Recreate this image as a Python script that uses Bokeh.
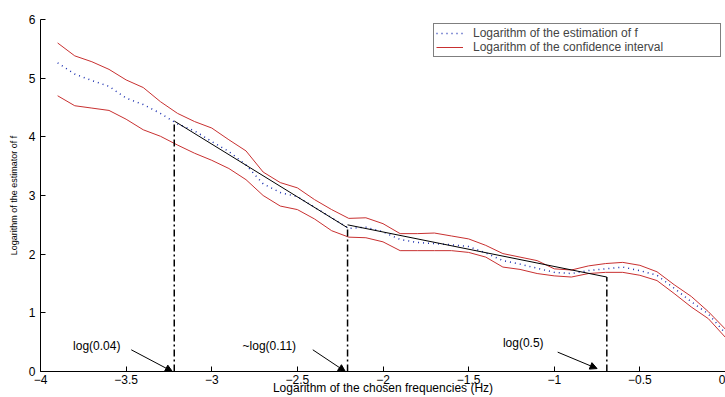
from bokeh.plotting import figure
from bokeh.models import Range1d, Legend, LegendItem, Arrow, NormalHead, FixedTicker
from bokeh.embed import file_html
from bokeh.resources import INLINE
from bokeh.core.properties import value

# ---- data ----
freq = [-3.9, -3.8, -3.7, -3.6, -3.5, -3.4, -3.3, -3.2, -3.1, -3.0,
        -2.9, -2.8, -2.7, -2.6, -2.5, -2.4, -2.3, -2.2, -2.1, -2.0,
        -1.9, -1.8, -1.7, -1.6, -1.5, -1.4, -1.3, -1.2, -1.1, -1.0,
        -0.9, -0.8, -0.7, -0.6, -0.5, -0.4, -0.3, -0.2, -0.1, 0.0]
estimate = [5.26, 5.07, 4.96, 4.86, 4.66, 4.55, 4.40, 4.22, 4.10, 3.92,
            3.75, 3.52, 3.20, 3.05, 2.98, 2.80, 2.62, 2.44, 2.46, 2.38,
            2.25, 2.20, 2.18, 2.16, 2.13, 2.02, 1.89, 1.83, 1.76, 1.69,
            1.67, 1.72, 1.75, 1.78, 1.72, 1.64, 1.42, 1.19, 0.98, 0.65]
ci_upper = [5.60, 5.38, 5.28, 5.15, 4.97, 4.84, 4.60, 4.40, 4.26, 4.15,
            3.95, 3.76, 3.40, 3.22, 3.13, 2.93, 2.76, 2.61, 2.62, 2.52,
            2.35, 2.35, 2.36, 2.31, 2.26, 2.15, 2.01, 1.95, 1.89, 1.75,
            1.73, 1.80, 1.84, 1.86, 1.81, 1.70, 1.48, 1.28, 1.02, 0.72]
ci_lower = [4.70, 4.53, 4.49, 4.45, 4.30, 4.12, 4.01, 3.86, 3.72, 3.60,
            3.46, 3.27, 3.00, 2.82, 2.76, 2.60, 2.40, 2.29, 2.28, 2.21,
            2.06, 2.06, 2.06, 2.06, 2.03, 1.95, 1.78, 1.74, 1.67, 1.63,
            1.61, 1.67, 1.69, 1.69, 1.64, 1.55, 1.33, 1.10, 0.90, 0.58]

# piecewise linear fit
fit1_x = [-3.219, -2.207]
fit1_y = [4.27, 2.45]
fit2_x = [-2.207, -0.693]
fit2_y = [2.50, 1.61]

# break points (vertical dash-dot lines)
break_x = [-3.219, -2.207, -0.693]
break_y = [4.25, 2.45, 1.61]

# annotations
ann_text = ["log(0.04)", "~log(0.11)", "log(0.5)"]
ann_x = [-3.81, -2.82, -1.30]
ann_y = [0.44, 0.44, 0.49]
arrow_x0 = [-3.47, -2.41, -0.98]
arrow_y0 = [0.37, 0.37, 0.33]
arrow_x1 = [-3.23, -2.22, -0.75]
arrow_y1 = [0.0, 0.0, 0.05]

x_ticks = [-4, -3.5, -3, -2.5, -2, -1.5, -1, -0.5, 0]
x_tick_labels = ["\u22124", "\u22123.5", "\u22123", "\u22122.5", "\u22122",
                 "\u22121.5", "\u22121", "\u22120.5", "0"]
y_ticks = [0, 1, 2, 3, 4, 5, 6]

FONT = "Liberation Sans"

p = figure(width=725, height=397, output_backend="svg", toolbar_location=None,
           x_range=Range1d(-4, 0), y_range=Range1d(0, 6),
           min_border_left=40, min_border_right=0, min_border_top=19,
           min_border_bottom=26)
p.grid.visible = False
p.outline_line_color = None
p.background_fill_color = "white"
p.border_fill_color = "white"

for ax in (p.xaxis[0], p.yaxis[0]):
    ax.major_tick_in = 5
    ax.major_tick_out = 0
    ax.minor_tick_line_color = None
    ax.axis_line_color = "black"
    ax.major_tick_line_color = "black"
    ax.major_label_text_font = FONT
    ax.major_label_text_font_size = "12px"
    ax.major_label_text_color = "black"
    ax.axis_label_text_font = FONT
    ax.axis_label_text_font_style = "normal"
    ax.axis_label_text_color = "black"

p.xaxis.ticker = FixedTicker(ticks=x_ticks)
p.xaxis.major_label_overrides = {t: l for t, l in zip(x_ticks, x_tick_labels)}
p.xaxis.axis_label = "Logarithm of the chosen frequencies (Hz)"
p.xaxis.axis_label_text_font_size = "12px"
p.xaxis.major_label_standoff = 3
p.xaxis.axis_label_standoff = -6

p.yaxis.ticker = FixedTicker(ticks=y_ticks)
p.yaxis.axis_label = "Logarithm of the estimator of f"
p.yaxis.axis_label_text_font_size = "9px"
p.yaxis.major_label_standoff = 5
p.yaxis.axis_label_standoff = 7

# curves
r_est = p.line(freq, estimate, line_color="#1a2fb0", line_width=1.5, line_dash="1 4")
r_up = p.line(freq, ci_upper, line_color="#c83030", line_width=1)
r_lo = p.line(freq, ci_lower, line_color="#c83030", line_width=1)

# fit lines
p.line(fit1_x, fit1_y, line_color="black", line_width=1)
p.line(fit2_x, fit2_y, line_color="black", line_width=1)

# vertical dash-dot lines
p.segment(x0=break_x, y0=[0] * len(break_x), x1=break_x, y1=break_y,
          line_color="black", line_width=1.5, line_dash="7 3 2 3")

# annotation texts
p.text(x=ann_x, y=ann_y, text=ann_text, text_font=value(FONT),
       text_font_size="12px", text_baseline="middle", text_align="left",
       text_color="black")

for x0, y0, x1, y1 in zip(arrow_x0, arrow_y0, arrow_x1, arrow_y1):
    p.add_layout(Arrow(end=NormalHead(size=7, fill_color="black", line_color="black"),
                       x_start=x0, y_start=y0, x_end=x1, y_end=y1,
                       line_color="black", line_width=1))

legend = Legend(items=[
    LegendItem(label="Logarithm of the estimation of f", renderers=[r_est]),
    LegendItem(label="Logarithm of the confidence interval", renderers=[r_up]),
], location="top_right")
legend.label_text_font = FONT
legend.label_text_font_size = "12px"
legend.label_height = 12
legend.label_width = 245
legend.glyph_height = 12
legend.glyph_width = 27
legend.label_standoff = 10
legend.spacing = 0
legend.padding = 2
legend.margin = 4
legend.border_line_color = "black"
legend.border_line_width = 1
legend.background_fill_alpha = 1
p.add_layout(legend)

open("out.html", "w").write(file_html(p, INLINE))
